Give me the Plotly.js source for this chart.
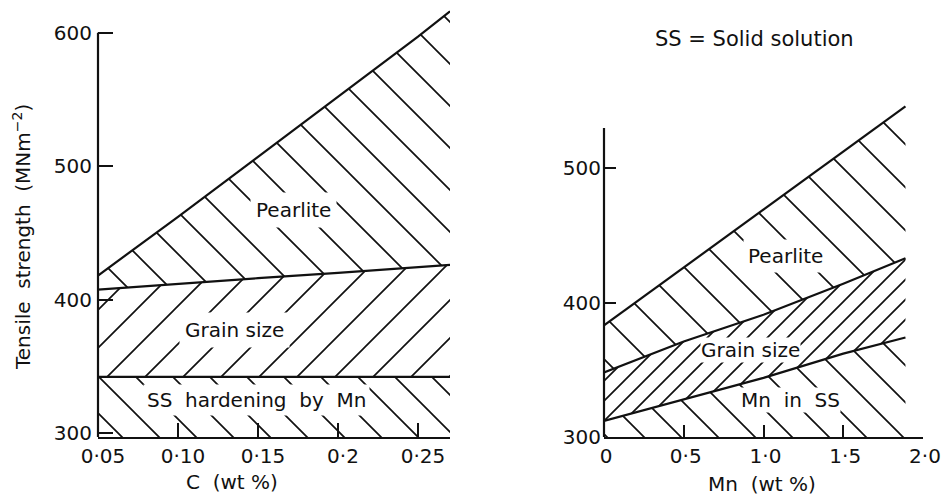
<!DOCTYPE html>
<html><head><meta charset="utf-8">
<script src="https://cdn.plot.ly/plotly-3.0.1.min.js"></script>
<style>html,body{margin:0;padding:0;background:#fff}#chart{width:944px;height:495px}</style>
</head><body><div id="chart"></div>
<script>
// ---- Left panel: strength contributions vs carbon content ----
const carbon = [0.05, 0.10, 0.15, 0.20, 0.25, 0.27];
const leftPearliteTop = [418, 462, 507, 552, 597, 616];
const leftGrainTop = [407.5, 412, 416, 420, 424.5, 426];
const leftSSTop = [342, 342, 342, 342, 342, 342];
const carbonTickVals = [0.05, 0.10, 0.15, 0.20, 0.25];
const carbonTickText = ['0·05', '0·10', '0·15', '0·2', '0·25'];
const leftStrengthTicks = [300, 400, 500, 600];

// ---- Right panel: strength contributions vs manganese content ----
const manganese = [0, 0.5, 1.0, 1.5, 1.89];
const rightPearliteTop = [383, 426, 469, 512, 546];
const rightGrainTop = [348, 371, 391, 414, 433];
const rightSSTop = [312, 328, 344, 362, 374];
const mnTickVals = [0, 0.5, 1.0, 1.5, 2.0];
const mnTickText = ['0', '0·5', '1·0', '1·5', '2·0'];
const rightStrengthTicks = [300, 400, 500];

const regionLabels = ['Pearlite', 'Grain size', 'SS\u00a0 hardening\u00a0 by\u00a0 Mn', 'Pearlite', 'Grain size', 'Mn\u00a0 in\u00a0 SS'];

const INK = '#111';
const FONT = 'DejaVu Sans, Liberation Sans, Arial, sans-serif';
const LEFT_YMIN = 297, LEFT_YMAX = 620, RIGHT_YMIN = 300, RIGHT_YMAX = 550;

function pat(shape, spacing) {
  const size = spacing / Math.SQRT2;
  return {shape: shape, size: size, solidity: 1.7 / size, fgcolor: INK, bgcolor: 'white', fillmode: 'replace'};
}
function base(x, y, xa, ya) {
  return {x: x, y: y, xaxis: xa, yaxis: ya, mode: 'lines', line: {width: 0, color: 'rgba(0,0,0,0)'},
          hoverinfo: 'skip', showlegend: false};
}
function band(x, y, xa, ya, p) {
  return {x: x, y: y, xaxis: xa, yaxis: ya, mode: 'lines', line: {width: 2.2, color: INK},
          fill: 'tonexty', fillcolor: 'white', fillpattern: p, hoverinfo: 'skip', showlegend: false};
}

const traces = [
  base(carbon, carbon.map(() => LEFT_YMIN), 'x', 'y'),
  band(carbon, leftSSTop, 'x', 'y', pat('\\', 37)),
  band(carbon, leftGrainTop, 'x', 'y', pat('/', 38)),
  band(carbon, leftPearliteTop, 'x', 'y', pat('\\', 42)),
  base(manganese, manganese.map(() => RIGHT_YMIN), 'x2', 'y2'),
  band(manganese, rightSSTop, 'x2', 'y2', pat('\\', 37)),
  band(manganese, rightGrainTop, 'x2', 'y2', pat('/', 20)),
  band(manganese, rightPearliteTop, 'x2', 'y2', pat('\\', 43)),
];

const W = 944, H = 495;
const tickFont = {family: FONT, size: 20, color: INK};
const axCommon = {showgrid: false, zeroline: false, ticks: 'inside', tickwidth: 2, tickcolor: INK,
                  tickfont: tickFont, fixedrange: true};

function lab(text, x, y, xr, yr, extra) {
  return Object.assign({text: text, x: x, y: y, xref: xr, yref: yr, showarrow: false,
    xanchor: 'center', yanchor: 'middle',
    font: {family: FONT, size: 20, color: INK}, bgcolor: 'white', borderpad: 5}, extra || {});
}
const clear = 'rgba(0,0,0,0)';

const layout = {
  width: W, height: H,
  margin: {l: 0, r: 0, t: 0, b: 0},
  paper_bgcolor: 'white', plot_bgcolor: 'white',
  showlegend: false,
  xaxis: Object.assign({}, axCommon, {domain: [98 / W, 450 / W], range: [0.05, 0.27], anchor: 'y',
    showline: true, linewidth: 2.2, linecolor: INK, ticklen: 14, ticklabelshift: 5, ticklabelstandoff: 0,
    tickmode: 'array', tickvals: carbonTickVals, ticktext: carbonTickText}),
  yaxis: Object.assign({}, axCommon, {domain: [58 / H, 489 / H], range: [LEFT_YMIN, LEFT_YMAX], anchor: 'x',
    showline: false, ticklen: 15, ticklabelstandoff: 5, tickmode: 'array', tickvals: leftStrengthTicks}),
  xaxis2: Object.assign({}, axCommon, {domain: [604 / W, 923 / W], range: [0, 2.0], anchor: 'y2',
    showline: true, linewidth: 2.2, linecolor: INK, ticklen: 12, ticklabelshift: 2, ticklabelstandoff: 0,
    tickmode: 'array', tickvals: mnTickVals, ticktext: mnTickText}),
  yaxis2: Object.assign({}, axCommon, {domain: [58 / H, 394 / H], range: [RIGHT_YMIN, RIGHT_YMAX], anchor: 'x2',
    showline: false, ticklen: 12, ticklabelstandoff: 2, tickmode: 'array', tickvals: rightStrengthTicks}),
  shapes: [
    {type: 'line', xref: 'x domain', yref: 'y', x0: 0, x1: 0, y0: LEFT_YMIN, y1: 600, line: {color: INK, width: 2.2}},
    {type: 'line', xref: 'x2 domain', yref: 'y2', x0: 0, x1: 0, y0: RIGHT_YMIN, y1: 530, line: {color: INK, width: 2.2}},
  ],
  annotations: [
    lab(regionLabels[0], 0.172, 467, 'x', 'y'),
    lab(regionLabels[1], 0.1356, 377.5, 'x', 'y'),
    lab(regionLabels[2], 0.149, 325, 'x', 'y', {borderpad: 3}),
    lab(regionLabels[3], 1.135, 434.5, 'x2', 'y2', {borderpad: 4}),
    lab(regionLabels[4], 0.92, 364.5, 'x2', 'y2', {borderpad: 0}),
    lab(regionLabels[5], 1.17, 327.5, 'x2', 'y2', {borderpad: 0}),
    lab('SS = Solid solution', 754 / W, 1 - 39 / H, 'paper', 'paper', {bgcolor: clear, font: {family: FONT, size: 21, color: INK}}),
    lab('C\u00a0 (wt %)', 232 / W, 1 - 482 / H, 'paper', 'paper', {bgcolor: clear}),
    lab('Mn\u00a0 (wt %)', 762 / W, 1 - 484 / H, 'paper', 'paper', {bgcolor: clear}),
    lab('Tensile\u00a0 strength\u00a0 (MNm<sup>−2</sup>)', 22 / W, 1 - 237 / H, 'paper', 'paper', {bgcolor: clear, textangle: -90}),
  ],
};

Plotly.newPlot('chart', traces, layout, {displayModeBar: false, staticPlot: true});
</script>
</body></html>
